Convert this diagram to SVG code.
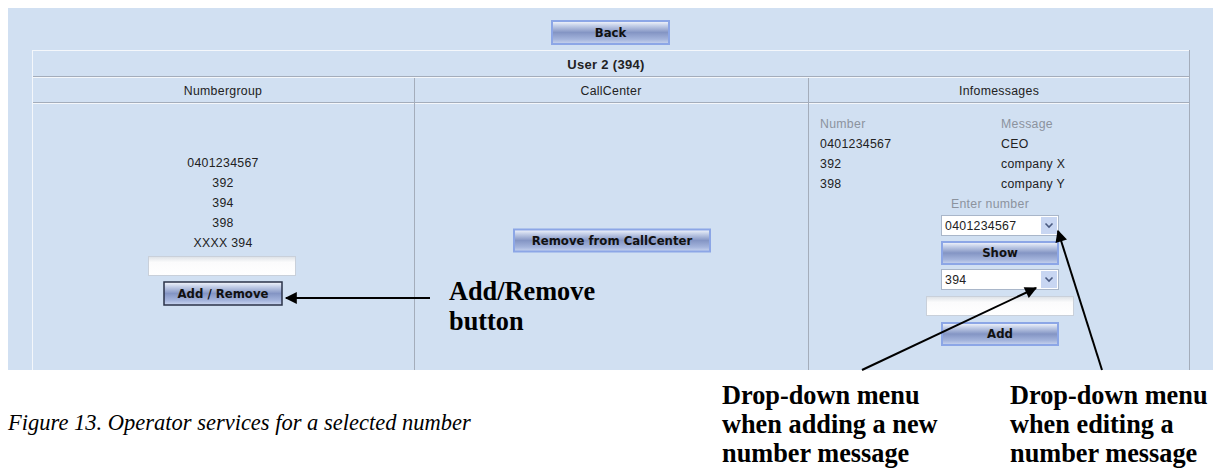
<svg xmlns="http://www.w3.org/2000/svg" width="1213" height="470" viewBox="0 0 1213 470">
<style>
.ui{font-family:"Liberation Sans",Arial,sans-serif;font-size:12.3px;letter-spacing:0.3px;fill:#222;}
.uib{font-family:"DejaVu Sans",sans-serif;font-size:11.7px;font-weight:bold;fill:#111;}
.ttl{font-family:"Liberation Sans",Arial,sans-serif;font-size:13px;font-weight:bold;letter-spacing:0.3px;fill:#222;}
.gray{fill:#8c939e;}
.call{font-family:"Liberation Serif","Times New Roman",serif;font-size:26.3px;font-weight:bold;fill:#000;}
.cap{font-family:"Liberation Serif","Times New Roman",serif;font-size:22.5px;font-style:italic;fill:#000;}
.btn{fill:url(#btng);stroke:#8ca6e6;stroke-width:2;}
.btnf{fill:url(#btng);stroke:#2a3248;stroke-width:1.5;}
.inp{fill:url(#inpg);stroke:#c9d0da;stroke-width:1;}
.dd{fill:#fff;stroke:#a9b6c9;stroke-width:1;}
.ddb{fill:#c8d6f2;stroke:none;}
.hl{stroke:#f4f7fb;stroke-width:1;}
.gl{stroke:#a4adbb;stroke-width:1;}
.conn{stroke:#000;stroke-width:2;fill:none;}
</style>
<defs>
<linearGradient id="btng" x1="0" y1="0" x2="0" y2="1">
<stop offset="0" stop-color="#f6f8fd"/>
<stop offset="0.2" stop-color="#c4cfe8"/>
<stop offset="0.5" stop-color="#8495c4"/>
<stop offset="0.8" stop-color="#a4b4dc"/>
<stop offset="1" stop-color="#cad6f0"/>
</linearGradient>
<linearGradient id="inpg" x1="0" y1="0" x2="0" y2="1">
<stop offset="0" stop-color="#dde1e6"/>
<stop offset="0.3" stop-color="#fbfbfc"/>
<stop offset="1" stop-color="#ffffff"/>
</linearGradient>
<marker id="ah" viewBox="0 0 10 10" refX="9" refY="5" markerWidth="8" markerHeight="6" orient="auto" markerUnits="strokeWidth">
<path d="M0,0 L10,5 L0,10 z" fill="#000"/>
</marker>
</defs>
<rect x="0" y="0" width="1213" height="470" fill="#fff"/>
<rect x="8" y="8" width="1205" height="362" fill="#d1e0f2"/>

<g id="table">
<line class="hl" x1="32" y1="50.5" x2="1190" y2="50.5"/>
<line class="hl" x1="32.5" y1="50" x2="32.5" y2="370"/>
<line class="gl" x1="1189.5" y1="50" x2="1189.5" y2="370"/>
<line class="gl" x1="33" y1="76.5" x2="1189" y2="76.5"/>
<line class="hl" x1="33" y1="77.5" x2="1189" y2="77.5"/>
<line class="gl" x1="33" y1="102.5" x2="1189" y2="102.5"/>
<line class="hl" x1="33" y1="103.5" x2="1189" y2="103.5"/>
<line class="gl" x1="414.5" y1="78" x2="414.5" y2="370"/>
<line class="gl" x1="808.5" y1="78" x2="808.5" y2="370"/>
</g>

<g id="back">
<rect class="btn" x="552" y="21" width="117" height="23"/>
<text class="uib" x="610.5" y="36.5" text-anchor="middle">Back</text>
</g>

<g id="title">
<text class="ttl" x="606" y="68.5" text-anchor="middle">User 2  (394)</text>
</g>

<g id="hdr-numbergroup"><text class="ui" x="223" y="94.5" text-anchor="middle">Numbergroup</text></g>
<g id="hdr-callcenter"><text class="ui" x="611" y="94.5" text-anchor="middle">CallCenter</text></g>
<g id="hdr-infomessages"><text class="ui" x="999" y="94.5" text-anchor="middle">Infomessages</text></g>

<g id="numbergroup">
<text class="ui" x="223" y="166.5" text-anchor="middle">0401234567</text>
<text class="ui" x="223" y="186.5" text-anchor="middle">392</text>
<text class="ui" x="223" y="206.5" text-anchor="middle">394</text>
<text class="ui" x="223" y="226.5" text-anchor="middle">398</text>
<text class="ui" x="223" y="246.5" text-anchor="middle">XXXX 394</text>
<rect class="inp" x="148.5" y="256.5" width="147" height="19"/>
</g>

<g id="addremove">
<rect class="btnf" x="164" y="282" width="118" height="23"/>
<text class="uib" x="223" y="297.5" text-anchor="middle">Add / Remove</text>
</g>

<g id="removecc">
<rect class="btn" x="514" y="229.5" width="196" height="22"/>
<text class="uib" x="612" y="244.5" text-anchor="middle">Remove from CallCenter</text>
</g>

<g id="infomessages">
<text class="ui gray" x="820" y="127.5">Number</text>
<text class="ui gray" x="1001" y="127.5">Message</text>
<text class="ui" x="820" y="147.5">0401234567</text>
<text class="ui" x="1001" y="147.5">CEO</text>
<text class="ui" x="820" y="167.5">392</text>
<text class="ui" x="1001" y="167.5">company X</text>
<text class="ui" x="820" y="187.5">398</text>
<text class="ui" x="1001" y="187.5">company Y</text>
<text class="ui gray" x="990" y="207.5" text-anchor="middle">Enter number</text>
</g>

<g id="dropdown-edit">
<rect class="dd" x="941.5" y="215.5" width="117" height="20"/>
<rect class="ddb" x="1041" y="217" width="16" height="17"/>
<path d="M1045.5,223.5 L1049,227 L1052.5,223.5" fill="none" stroke="#4a5a80" stroke-width="1.6"/>
<text class="ui" x="945" y="230">0401234567</text>
</g>

<g id="show">
<rect class="btn" x="942" y="242" width="116" height="22"/>
<text class="uib" x="1000" y="257" text-anchor="middle">Show</text>
</g>

<g id="dropdown-add">
<rect class="dd" x="941.5" y="269.5" width="117" height="20"/>
<rect class="ddb" x="1041" y="271" width="16" height="17"/>
<path d="M1045.5,277.5 L1049,281 L1052.5,277.5" fill="none" stroke="#4a5a80" stroke-width="1.6"/>
<text class="ui" x="945" y="284">394</text>
</g>

<g id="msg-input">
<rect class="inp" x="926.5" y="296.5" width="147" height="19"/>
</g>

<g id="add">
<rect class="btn" x="942" y="323" width="116" height="22"/>
<text class="uib" x="1000" y="338" text-anchor="middle">Add</text>
</g>

<g id="connectors">
<line class="conn" x1="430" y1="298" x2="286" y2="298" marker-end="url(#ah)"/>
<line class="conn" x1="862" y1="370" x2="1036" y2="288" marker-end="url(#ah)"/>
<line class="conn" x1="1102" y1="370" x2="1058" y2="231" marker-end="url(#ah)"/>
</g>

<g id="label-addremove">
<text class="call" x="449" y="300">Add/Remove</text>
<text class="call" x="449" y="330">button</text>
</g>

<g id="label-dd-add">
<text class="call" x="722" y="404">Drop-down menu</text>
<text class="call" x="722" y="433">when adding a new</text>
<text class="call" x="722" y="462">number message</text>
</g>

<g id="label-dd-edit">
<text class="call" x="1010" y="404">Drop-down menu</text>
<text class="call" x="1010" y="433">when editing a</text>
<text class="call" x="1010" y="462">number message</text>
</g>

<g id="caption">
<text class="cap" x="8" y="430">Figure 13. Operator services for a selected number</text>
</g>
</svg>
